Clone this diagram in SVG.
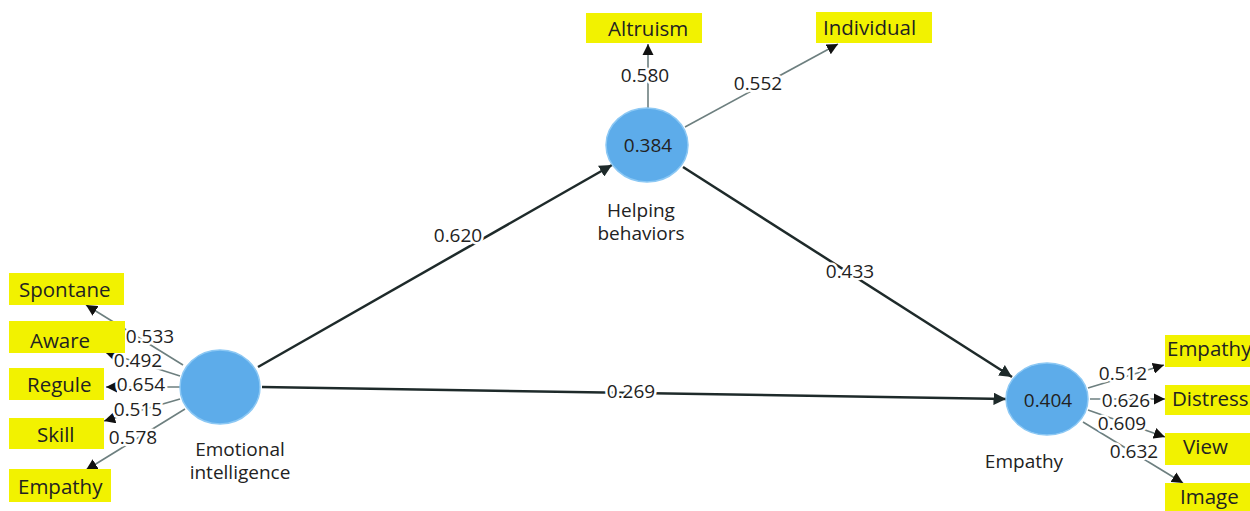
<svg xmlns="http://www.w3.org/2000/svg" width="1250" height="511" viewBox="0 0 1250 511">
<style>
text{font-family:"Open Sans","Noto Sans","DejaVu Sans",sans-serif;fill:#222;}
.box{fill:#f2f200;}
.bl{font-size:20.5px;}
.lat{fill:#5dacea;stroke:#8cc8f4;stroke-width:1.5;}
.num{font-size:19px;text-anchor:middle;paint-order:stroke;stroke:#fff;stroke-width:5px;stroke-linejoin:round;}
.nl{font-size:19px;text-anchor:middle;}
.s{stroke:#1e2a2a;stroke-width:2.5;fill:none;marker-end:url(#ah);}
.m{stroke:#6d7f7f;stroke-width:1.6;fill:none;marker-end:url(#am);}
</style>
<defs>
<marker id="ah" viewBox="0 0 10 10" refX="10" refY="5" markerWidth="5" markerHeight="5" orient="auto" markerUnits="strokeWidth"><path d="M0,0L10,5L0,10z" fill="#1e2a2a"/></marker>
<marker id="am" viewBox="0 0 10 10" refX="10" refY="5" markerWidth="7" markerHeight="7" orient="auto" markerUnits="strokeWidth"><path d="M0,0L10,5L0,10z" fill="#111"/></marker>
</defs>
<rect width="1250" height="511" fill="#fff"/>
<g id="connectors">
<path class="s" d="M258,367L612,165"/>
<path class="s" d="M683,167L1012,377"/>
<path class="s" d="M262,387L1006,399"/>
<path class="m" d="M648,108L648,44"/>
<path class="m" d="M685,127L838,44"/>
<path class="m" d="M183,365L86,305"/>
<path class="m" d="M180,376L105,352"/>
<path class="m" d="M180,387L106,387"/>
<path class="m" d="M180,399L104,421"/>
<path class="m" d="M185,409L86,470"/>
<path class="m" d="M1088,388L1164,365"/>
<path class="m" d="M1090,399L1165,399"/>
<path class="m" d="M1088,410L1165,437"/>
<path class="m" d="M1083,422L1183,483"/>
<text class="num" x="458" y="242">0.620</text>
<text class="num" x="850" y="278">0.433</text>
<text class="num" x="631" y="398">0.269</text>
<text class="num" x="645" y="82">0.580</text>
<text class="num" x="758" y="90">0.552</text>
<text class="num" x="150" y="343">0.533</text>
<text class="num" x="138" y="367">0.492</text>
<text class="num" x="141" y="391">0.654</text>
<text class="num" x="138" y="416">0.515</text>
<text class="num" x="133" y="444">0.578</text>
<text class="num" x="1123" y="380">0.512</text>
<text class="num" x="1126" y="407">0.626</text>
<text class="num" x="1122" y="430">0.609</text>
<text class="num" x="1134" y="458">0.632</text>
</g>
<g id="emotional-intelligence">
<ellipse class="lat" cx="220" cy="387" rx="40" ry="37"/>
<text class="nl" x="240" y="456">Emotional</text>
<text class="nl" x="240" y="479">intelligence</text>
</g>
<g id="helping-behaviors">
<ellipse class="lat" cx="647" cy="145" rx="41" ry="37"/>
<text class="nl" x="648" y="152">0.384</text>
<text class="nl" x="641" y="217">Helping</text>
<text class="nl" x="641" y="240">behaviors</text>
</g>
<g id="empathy">
<ellipse class="lat" cx="1047" cy="399" rx="41" ry="36"/>
<text class="nl" x="1048" y="407">0.404</text>
<text class="nl" x="1024" y="468">Empathy</text>
</g>
<g id="altruism"><rect class="box" x="586" y="13" width="116" height="30"/><text class="bl" x="608" y="36">Altruism</text></g>
<g id="individual"><rect class="box" x="816" y="12" width="116" height="31"/><text class="bl" x="823" y="35">Individual</text></g>
<g id="spontane"><rect class="box" x="9" y="273" width="115" height="32"/><text class="bl" x="19" y="297">Spontane</text></g>
<g id="aware"><rect class="box" x="9" y="321" width="116" height="32"/><text class="bl" x="30" y="348">Aware</text></g>
<g id="regule"><rect class="box" x="9" y="368" width="95" height="32"/><text class="bl" x="27" y="392">Regule</text></g>
<g id="skill"><rect class="box" x="9" y="418" width="95" height="31"/><text class="bl" x="37" y="442">Skill</text></g>
<g id="empathy-ind-left"><rect class="box" x="9" y="469" width="102" height="33"/><text class="bl" x="18" y="494">Empathy</text></g>
<g id="empathy-ind-right"><rect class="box" x="1165" y="335" width="85" height="32"/><text class="bl" x="1167" y="356">Empathy</text></g>
<g id="distress"><rect class="box" x="1165" y="385" width="85" height="30"/><text class="bl" x="1172" y="406">Distress</text></g>
<g id="view"><rect class="box" x="1165" y="433" width="85" height="32"/><text class="bl" x="1183" y="454">View</text></g>
<g id="image"><rect class="box" x="1165" y="483" width="85" height="28"/><text class="bl" x="1180" y="504">Image</text></g>
</svg>
